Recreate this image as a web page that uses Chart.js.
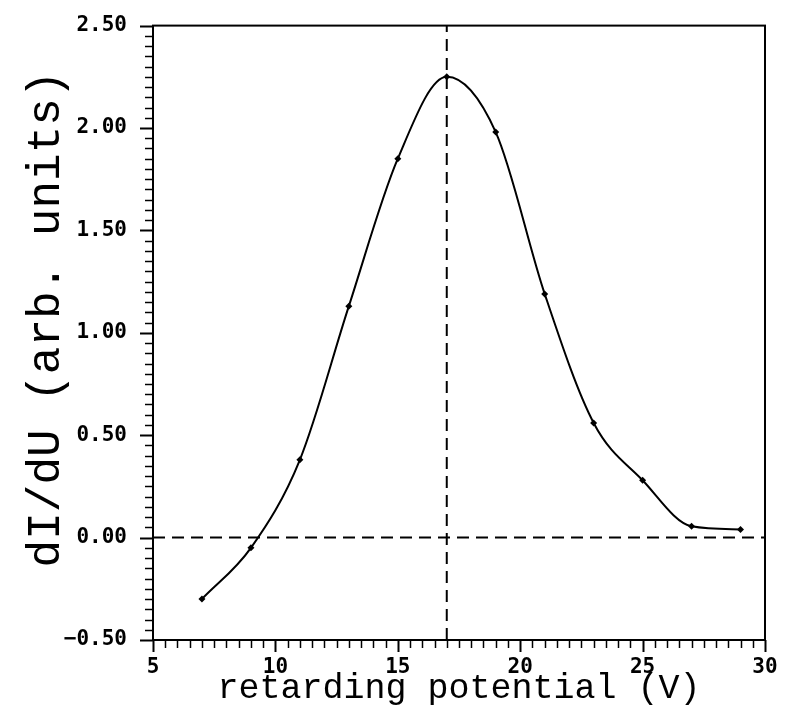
<!DOCTYPE html>
<html><head><meta charset="utf-8">
<script src="https://cdn.jsdelivr.net/npm/chart.js@4"></script>
<style>html,body{margin:0;padding:0;background:#fff}#wrap{width:786px;height:714px}</style>
</head><body><div id="wrap"><canvas id="c" width="786" height="714"></canvas></div>
<script>
// ---- data ----
const potential = [7, 9, 11, 13, 15, 17, 19, 21, 23, 25, 27, 29];
const dIdU = [-0.30, -0.05, 0.38, 1.13, 1.85, 2.25, 1.98, 1.19, 0.56, 0.28, 0.055, 0.04];
const peakPotential = 17;
const zeroLevel = 0;
const xRange = [5, 30];
const yRange = [-0.5, 2.5];
const xMajorTicks = [5, 10, 15, 20, 25, 30];
const xTickLabels = ['5', '10', '15', '20', '25', '30'];
const yMajorTicks = [-0.5, 0, 0.5, 1, 1.5, 2, 2.5];
const yTickLabels = ['\u22120.50', '0.00', '0.50', '1.00', '1.50', '2.00', '2.50'];
const xTitle = 'retarding potential (V)';
const yTitle = ' dI/dU (arb. units)';

function findMajor(list, v) {
  for (let i = 0; i < list.length; i++) if (Math.abs(list[i] - v) < 1e-6) return i;
  return -1;
}

const tickPlugin = {
  id: 'ticksAndFrame',
  afterDraw(chart) {
    const ctx = chart.ctx, a = chart.chartArea, xs = chart.scales.x, ys = chart.scales.y;
    ctx.save();
    ctx.strokeStyle = '#000';
    xs.ticks.forEach(t => {
      const px = Math.round(xs.getPixelForValue(t.value)) + 0.5;
      const major = findMajor(xMajorTicks, t.value) >= 0;
      ctx.lineWidth = major ? 2 : 1.5;
      ctx.beginPath(); ctx.moveTo(px, a.bottom); ctx.lineTo(px, a.bottom + (major ? 12 : 8)); ctx.stroke();
    });
    ys.ticks.forEach(t => {
      const py = Math.round(ys.getPixelForValue(t.value)) + 0.5;
      const major = findMajor(yMajorTicks, t.value) >= 0;
      ctx.lineWidth = major ? 2 : 1.5;
      ctx.beginPath(); ctx.moveTo(a.left, py); ctx.lineTo(a.left - (major ? 13 : 8), py); ctx.stroke();
    });
    ctx.lineWidth = 2;
    ctx.strokeRect(a.left, a.top, a.right - a.left, a.bottom - a.top);
    ctx.restore();
  }
};

const tickFont = { family: '"DejaVu Sans Mono"', weight: 'bold', size: 21 };

new Chart(document.getElementById('c'), {
  type: 'scatter',
  data: {
    datasets: [
      {
        data: potential.map((x, i) => ({ x: x, y: dIdU[i] })),
        showLine: true, cubicInterpolationMode: 'monotone',
        borderColor: '#000', borderWidth: 2,
        pointStyle: 'rectRot', pointRadius: 3.5, pointBackgroundColor: '#000', pointBorderColor: '#000', pointBorderWidth: 0
      },
      {
        data: [{ x: xRange[0], y: zeroLevel }, { x: xRange[1], y: zeroLevel }],
        showLine: true, borderColor: '#000', borderWidth: 2, borderDash: [12, 7], pointRadius: 0
      },
      {
        data: [{ x: peakPotential, y: yRange[0] }, { x: peakPotential, y: yRange[1] }],
        showLine: true, borderColor: '#000', borderWidth: 2, borderDash: [12, 7], pointRadius: 0
      }
    ]
  },
  options: {
    responsive: false, devicePixelRatio: 1, animation: false,
    layout: { padding: { top: 21, right: 21, left: 0, bottom: 0 } },
    plugins: { legend: { display: false }, tooltip: { enabled: false } },
    scales: {
      x: {
        type: 'linear', min: xRange[0], max: xRange[1],
        afterFit(s) { s.height = 74; },
        border: { display: true, color: '#000', width: 2 },
        grid: { display: true, drawOnChartArea: false, drawTicks: true, tickLength: 12, tickColor: 'rgba(0,0,0,0)' },
        ticks: {
          stepSize: 0.5, autoSkip: false, maxRotation: 0, padding: 3, color: '#000', font: tickFont,
          callback: v => { const i = findMajor(xMajorTicks, v); return i >= 0 ? xTickLabels[i] : ''; }
        },
        title: { display: true, text: xTitle, color: '#000', font: { family: '"Liberation Mono"', size: 35 }, padding: { top: 0, bottom: 4 } }
      },
      y: {
        type: 'linear', min: yRange[0], max: yRange[1],
        afterFit(s) { s.width = 153; },
        border: { display: true, color: '#000', width: 2 },
        grid: { display: true, drawOnChartArea: false, drawTicks: true, tickLength: 13, tickColor: 'rgba(0,0,0,0)' },
        ticks: {
          stepSize: 0.05, autoSkip: false, padding: 13, color: '#000', font: tickFont,
          callback: v => { const i = findMajor(yMajorTicks, v); return i >= 0 ? yTickLabels[i] : ''; }
        },
        title: { display: true, text: yTitle, color: '#000', font: { family: '"Liberation Mono"', size: 46 }, padding: { top: 19, bottom: 0 } }
      }
    }
  },
  plugins: [tickPlugin]
});
</script>
</body></html>
